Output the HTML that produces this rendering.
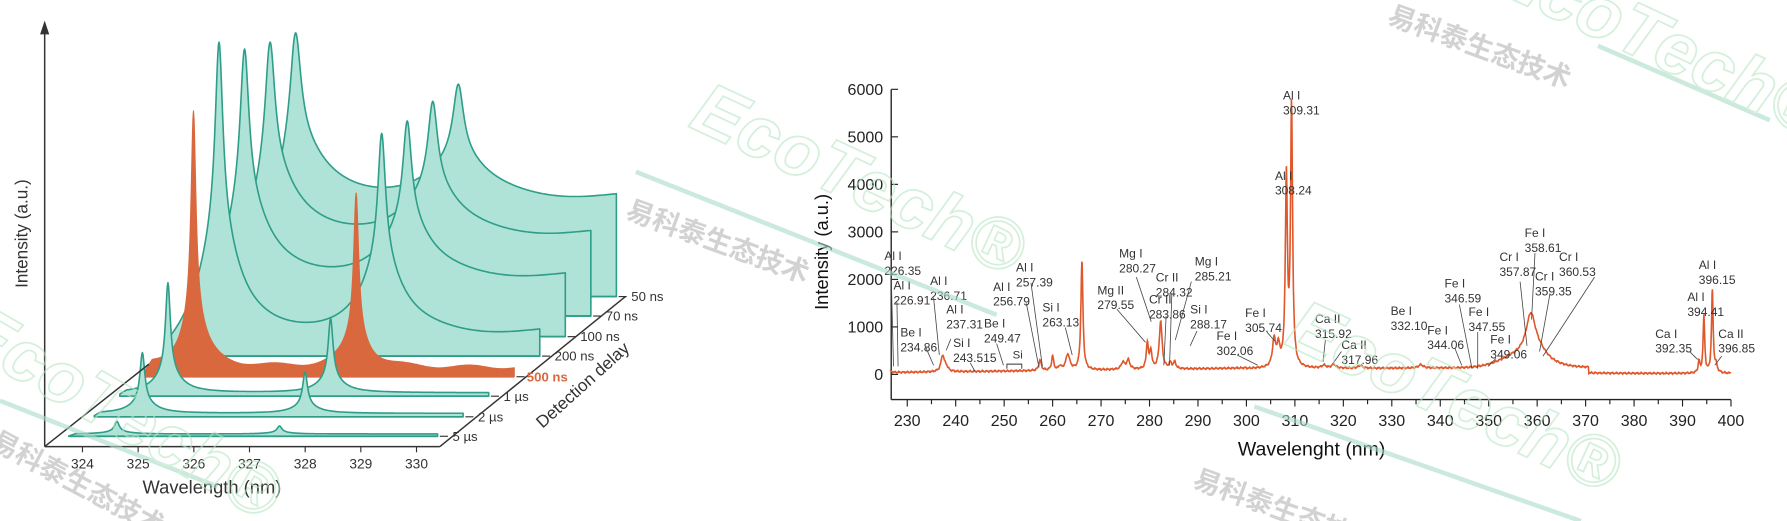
<!DOCTYPE html>
<html><head><meta charset="utf-8"><style>
html,body{margin:0;padding:0;background:#fff;width:1787px;height:521px;overflow:hidden;}
svg{display:block;}
text{font-family:"Liberation Sans","Noto Sans CJK SC",sans-serif;}
</style></head><body>
<svg id="s" width="1787" height="521" viewBox="0 0 1560 455" preserveAspectRatio="none" xmlns="http://www.w3.org/2000/svg">
<rect width="1560" height="455" fill="#fff"/>
<g id="left"></g>
<g id="right"></g>
<g id="wm" opacity="0.6"></g>
</svg>
<script>
const NS="http://www.w3.org/2000/svg";
function el(p,t,a,txt){const e=document.createElementNS(NS,t);for(const k in a)e.setAttribute(k,a[k]);if(txt!==undefined)e.textContent=txt;p.appendChild(e);return e;}
const L=document.getElementById('left'),R=document.getElementById('right'),W=document.getElementById('wm');
const teal="#2e9e89",fillT="#b0e3d7",org="#d9683e";
const ser=[
 {n:"5 µs",base:381,L:2,a1:11,a2:7,g:2.5},
 {n:"2 µs",base:364,L:3,a1:53,a2:36,g:2.5},
 {n:"1 µs",base:346,L:3,a1:96,a2:65,g:2.5},
 {n:"500 ns",base:329,L:8,a1:224,a2:152,g:2.5,o:1},
 {n:"200 ns",base:311,L:21,a1:249,a2:169,g:4},
 {n:"100 ns",base:294,L:53,a1:194,a2:131,g:4.5},
 {n:"70 ns",base:276,L:72,a1:163,a2:111,g:5},
 {n:"50 ns",base:259,L:87,a1:139,a2:94,g:5.5}];
const step=22.3;
function lor(d,g){return 1/(1+(d/g)*(d/g));}
for(let k=7;k>=0;k--){
 const s=ser[k],x0=60+k*step,x1=382+k*step,p1=102+k*step,p2=244+k*step;
 let d="M"+x0+","+s.base;
 for(let x=x0;x<=x1;x+=0.5){
  let ramp=Math.min(1,(x-x0)/(k>=4?40:6));
  let f=k>=4?0.35:0.2;
  let h=s.L*ramp+s.a1*((1-f)*lor(x-p1,s.g)+f*lor(x-p1,s.g*5))+s.a2*((1-f)*lor(x-p2,s.g)+f*lor(x-p2,s.g*5));
  if(k>=4) h+=3*Math.sin((x-x0)/25);
  if(k==3) h+=1.5*Math.sin(x/9);
  d+=" L"+x.toFixed(1)+","+(s.base-h).toFixed(1);
 }
 d+=" L"+x1+","+s.base+" Z";
 el(L,"path",{d:d,fill:s.o?org:fillT,stroke:s.o?org:teal,"stroke-width":s.o?1:1.4,"stroke-linejoin":"round"});
 el(L,"line",{x1:x0,y1:s.base,x2:x1,y2:s.base,stroke:s.o?org:teal,"stroke-width":1.5});
}
el(L,"line",{x1:39,y1:390,x2:384,y2:390,stroke:"#333","stroke-width":1.3});
el(L,"line",{x1:384,y1:390,x2:546,y2:259,stroke:"#333","stroke-width":1.3});
el(L,"line",{x1:39,y1:390,x2:130,y2:318,stroke:"#333","stroke-width":1.3});
el(L,"line",{x1:39,y1:390,x2:39,y2:26,stroke:"#333","stroke-width":1.3});
el(L,"path",{d:"M39,18 L35,30 L43,30 Z",fill:"#333"});
for(let i=0;i<7;i++){const x=72+i*48.6;el(L,"line",{x1:x,y1:390,x2:x,y2:395,stroke:"#333"});
 el(L,"text",{x:x,y:409,"font-size":12,"text-anchor":"middle",fill:"#333"},String(324+i));}
for(let k=0;k<8;k++){const x=382+k*step,y=ser[k].base;
 el(L,"line",{x1:x+2,y1:y,x2:x+9,y2:y,stroke:"#333"});
 el(L,"text",{x:x+13+(k==3?-2:0),y:y+4,"font-size":11.5,fill:k==3?org:"#333","font-weight":k==3?"bold":"normal"},ser[k].n);}
el(L,"text",{x:185,y:431,"font-size":16,"text-anchor":"middle",fill:"#333"},"Wavelength (nm)");
el(L,"text",{x:0,y:0,"font-size":15,"text-anchor":"middle",fill:"#333",transform:"translate(24,204) rotate(-90)"},"Intensity (a.u.)");
el(L,"text",{x:0,y:0,"font-size":15,"text-anchor":"middle",fill:"#333",transform:"translate(512,340) rotate(-42)"},"Detection delay");
// RIGHT
const X=l=>792+(l-230)*4.23, Y=v=>327-v*0.0415;
el(R,"line",{x1:778,y1:78,x2:778,y2:349,stroke:"#222","stroke-width":1.2});
el(R,"line",{x1:778,y1:349,x2:1511,y2:349,stroke:"#222","stroke-width":1.2});
for(let v=0;v<=6000;v+=1000){el(R,"line",{x1:778,y1:Y(v),x2:784,y2:Y(v),stroke:"#222"});
 el(R,"text",{x:771,y:Y(v)+5,"font-size":14,"text-anchor":"end",fill:"#222"},String(v));}
for(let l=230;l<=400;l+=5){const x=X(l);el(R,"line",{x1:x,y1:349,x2:x,y2:l%10==0?355:353,stroke:"#222"});
 if(l%10==0)el(R,"text",{x:x,y:372,"font-size":14,"text-anchor":"middle",fill:"#222"},String(l));}
el(R,"text",{x:1145,y:398,"font-size":17,"text-anchor":"middle",fill:"#111"},"Wavelenght (nm)");
el(R,"text",{x:0,y:0,"font-size":16,"text-anchor":"middle",fill:"#111",transform:"translate(723,220) rotate(-90)"},"Intensity (a.u.)");
const pk=[[226.35,60,.3],[237.3,330,.4],[238,100,.5],[257.4,220,.3],[260,300,.25],[261.5,80,.3],[263.13,330,.5],[266.05,2300,.25],[274.5,150,.4],[275.6,200,.4],[279.55,560,.25],[280.27,380,.25],[282.3,1000,.35],[284.3,120,.3],[285.2,140,.3],[305.7,560,.4],[306.6,400,.4],[308.24,3950,.25],[309.31,5450,.25],[316,60,.5],[318,80,.5],[323.5,60,.5],[336,70,.6],[358.7,850,1.2],[360.5,150,2],[393.4,250,.2],[394.41,1200,.2],[396.15,1750,.2],[396.9,150,.3]];
function base(l){if(l>370.6&&l<393)return 20;let b=40+(l-226)*1.2;if(l>300)b=120+(l-300)*0.3;
 b+=250*Math.exp(-Math.pow((l-357)/6,2));if(l>393)b=20;return b;}
let d="";
for(let l=226.5;l<=400;l+=0.08){let v=base(l)+12*Math.sin(l*7.3)+8*Math.sin(l*17.1);for(const p of pk)v+=p[1]*lor(l-p[0],p[2]);
 d+=(d?" L":"M")+X(l).toFixed(1)+","+Y(v).toFixed(1);}
el(R,"path",{d:d,fill:"none",stroke:"#e0572a","stroke-width":1.4});
const lab=[
["Al I","226.35",772,223,[778,240,780,320]],["Al I","226.91",780,249,[783,264,784,320]],
["Al I","236.71",812,245,[815,260,820,310]],["Be I","234.86",786,290,[808,303,815,319]],
["Al I","237.31",826,270,[830,296,826,306]],["Si I","243.515",832,299,[847,317,851,324]],
["Be I","249.47",859,282,[870,300,876,319]],["Al I","256.79",867,250,[896,265,907,321]],
["Al I","257.39",887,233,[900,247,910,320]],["Si I","263.13",910,268,[930,286,936,310]],
["Mg II","279.55",958,253,[975,270,1000,299]],["Mg I","280.27",977,221,[992,242,1005,281]],
["Cr II","284.32",1009,242,[1023,256,1021,319]],["Cr II","283.86",1003,261,[1018,276,1016,319]],
["Mg I","285.21",1043,228,[1040,246,1026,297]],["Si I","288.17",1039,270,[1045,289,1039,302]],
["Fe I","302.06",1062,293,[1080,310,1098,319]],["Fe I","305.74",1087,273,[1106,290,1113,298]],
["Al I","309.31",1120,83,null],["Al I","308.24",1113,153,null],
["Ca II","315.92",1148,278,[1157,297,1155,316]],["Ca II","317.96",1171,301,[1171,307,1164,317]],
["Be I","332.10",1214,271,null],["Fe I","344.06",1246,288,[1270,304,1276,319]],
["Fe I","346.59",1261,247,[1274,266,1285,322]],["Fe I","347.55",1282,272,[1290,290,1290,322]],
["Fe I","349.06",1301,296,[1306,313,1299,320]],["Cr I","357.87",1309,224,[1327,246,1333,302]],
["Fe I","358.61",1331,203,[1340,221,1337,279]],["Cr I","359.35",1340,241,[1353,257,1344,307]],
["Cr I","360.53",1361,224,[1392,242,1347,311]],["Ca I","392.35",1445,291,[1475,307,1482,314]],
["Al I","394.41",1473,259,null],["Al I","396.15",1483,231,null],["Ca II","396.85",1500,291,[1503,311,1497,319]]];
for(const a of lab){el(R,"text",{x:a[2],y:a[3]+4,"font-size":10.5,fill:"#333"},a[0]);
 el(R,"text",{x:a[2],y:a[3]+17,"font-size":10.5,fill:"#333"},a[1]);
 if(a[4])el(R,"line",{x1:a[4][0],y1:a[4][1],x2:a[4][2],y2:a[4][3],stroke:"#444","stroke-width":0.7});}
el(R,"text",{x:884,y:313,"font-size":10,fill:"#333"},"Si");
el(R,"path",{d:"M879,322 L879,318 L892,318 L892,322",fill:"none",stroke:"#333","stroke-width":0.8});
// watermarks
const lines=[[555,150,870,275],[1395,40,1545,105],[1095,355,1380,455],[0,350,190,425]];
for(const l of lines)el(W,"line",{x1:l[0],y1:l[1],x2:l[2],y2:l[3],stroke:"#a9dcc6","stroke-width":4});
function eco(x,y,r,s){el(W,"text",{x:0,y:0,"font-size":s,"font-weight":"bold","font-style":"italic",fill:"none",stroke:"#b8e6c4","stroke-width":1.5,transform:`translate(${x},${y}) rotate(${r})`},"EcoTech®");}
function cn(x,y,r,s){el(W,"text",{x:0,y:0,"font-size":s,"font-weight":"bold",fill:"#b4b4b4",transform:`translate(${x},${y}) rotate(${r})`},"易科泰生态技术");}
eco(600,110,25,64);cn(545,190,20,24);
eco(1300,-10,25,64);cn(1210,20,20,24);
eco(1120,300,25,64);cn(1040,425,20,24);
eco(-40,300,30,64);cn(-10,390,28,24);
</script>
</body></html>
